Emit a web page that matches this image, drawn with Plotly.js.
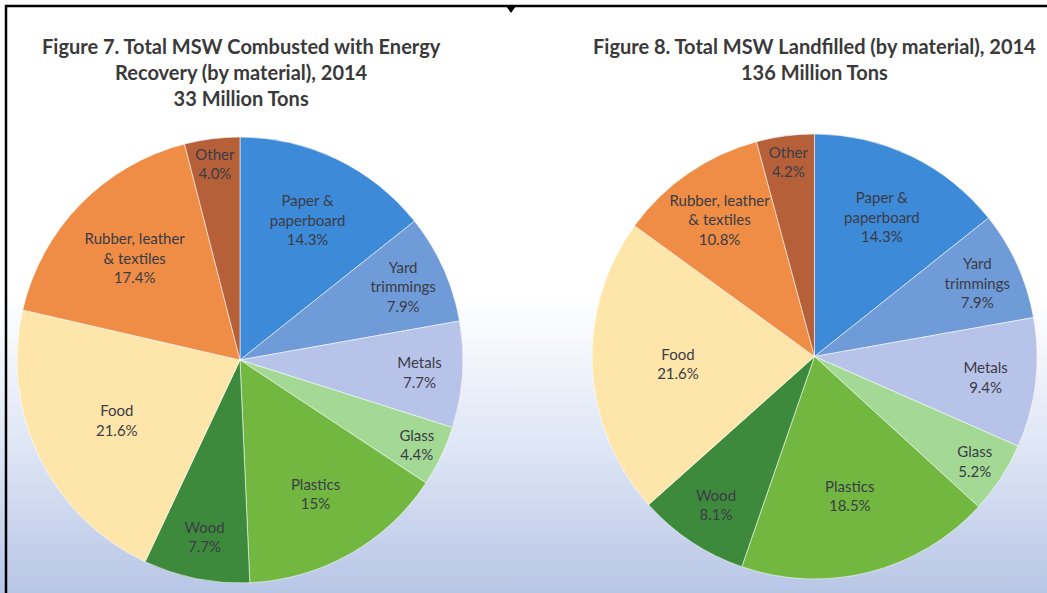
<!DOCTYPE html>
<html>
<head>
<meta charset="utf-8">
<script src="https://cdn.plot.ly/plotly-3.0.1.min.js"></script>
<style>
  html, body { margin: 0; padding: 0; }
  body {
    width: 1047px; height: 593px; overflow: hidden;
    background: linear-gradient(to bottom, #ffffff 0%, #ffffff 50%, #dde5f5 76%, #b8c6e6 100%);
  }
  #chart { width: 1047px; height: 593px; }
</style>
</head>
<body>
<div id="chart"></div>
<script>
// Material categories (clockwise from 12 o'clock)
const categories = ["Paper & paperboard", "Yard trimmings", "Metals", "Glass", "Plastics", "Wood", "Food", "Rubber, leather & textiles", "Other"];
const displayLabels = ["Paper &<br>paperboard", "Yard<br>trimmings", "Metals", "Glass", "Plastics", "Wood", "Food", "Rubber, leather<br>& textiles", "Other"];

// Figure 7: combusted with energy recovery (percent)
const combustedValues = [14.3, 7.9, 7.7, 4.4, 15, 7.7, 21.6, 17.4, 4.0];
const combustedPctText = ["14.3%", "7.9%", "7.7%", "4.4%", "15%", "7.7%", "21.6%", "17.4%", "4.0%"];

// Figure 8: landfilled (percent)
const landfilledValues = [14.3, 7.9, 9.4, 5.2, 18.5, 8.1, 21.6, 10.8, 4.2];
const landfilledPctText = ["14.3%", "7.9%", "9.4%", "5.2%", "18.5%", "8.1%", "21.6%", "10.8%", "4.2%"];

const titles = [
  "Figure 7. Total MSW Combusted with Energy<br>Recovery (by material), 2014<br>33 Million Tons",
  "Figure 8. Total MSW Landfilled (by material), 2014<br>136 Million Tons"
];

const sliceColors = ["#3d8ad8", "#6f9bd8", "#b8c3ea", "#a3d995", "#72b840", "#3e8a3c", "#fee6ab", "#ef8c45", "#b6603a"];

const W = 1047, H = 593;
function px(x) { return x / W; }
function py(y) { return 1 - y / H; }

function makePie(values, pctText, domain) {
  return {
    type: "pie",
    labels: categories,
    values: values,
    text: displayLabels.map((l, i) => l + "<br>" + pctText[i]),
    texttemplate: "%{text}",
    textinfo: "text",
    textposition: "inside",
    insidetextorientation: "horizontal",
    insidetextfont: { family: "Lato, 'Open Sans', sans-serif", size: 15, color: "#3a3c46" },
    sort: false,
    direction: "clockwise",
    rotation: 0,
    marker: { colors: sliceColors, line: { color: "rgba(255,255,255,0.55)", width: 1 } },
    domain: domain,
    showlegend: false,
    hoverinfo: "label+value"
  };
}

const data = [
  makePie(combustedValues, combustedPctText, { x: [px(17), px(463)], y: [py(583), py(137)] }),
  makePie(landfilledValues, landfilledPctText, { x: [px(592), px(1037)], y: [py(579), py(134)] })
];

const layout = {
  width: W, height: H,
  margin: { l: 0, r: 0, t: 0, b: 0 },
  paper_bgcolor: "rgba(0,0,0,0)",
  plot_bgcolor: "rgba(0,0,0,0)",
  showlegend: false,
  uniformtext: { mode: "show", minsize: 15 },
  annotations: [
    { text: "<b>" + titles[0] + "</b>", x: px(241), y: py(32), xref: "paper", yref: "paper",
      xanchor: "center", yanchor: "top", showarrow: false, align: "center",
      font: { family: "Lato, 'Open Sans', sans-serif", size: 20, color: "#3a3a3a" } },
    { text: "<b>" + titles[1] + "</b>", x: px(814), y: py(32), xref: "paper", yref: "paper",
      xanchor: "center", yanchor: "top", showarrow: false, align: "center",
      font: { family: "Lato, 'Open Sans', sans-serif", size: 20, color: "#3a3a3a" } }
  ],
  shapes: [
    { type: "line", xref: "paper", yref: "paper", x0: px(5), x1: 1, y0: py(6), y1: py(6),
      line: { color: "#000", width: 2.5 } },
    { type: "line", xref: "paper", yref: "paper", x0: px(6), x1: px(6), y0: 0, y1: py(5),
      line: { color: "#000", width: 2.5 } },
    { type: "path", xref: "paper", yref: "paper",
      path: "M " + px(506) + " " + py(6) + " L " + px(516) + " " + py(6) + " L " + px(511) + " " + py(13) + " Z",
      fillcolor: "#000", line: { color: "#000", width: 0 } }
  ]
};

Plotly.newPlot("chart", data, layout, { displayModeBar: false, staticPlot: true });
</script>
</body>
</html>
